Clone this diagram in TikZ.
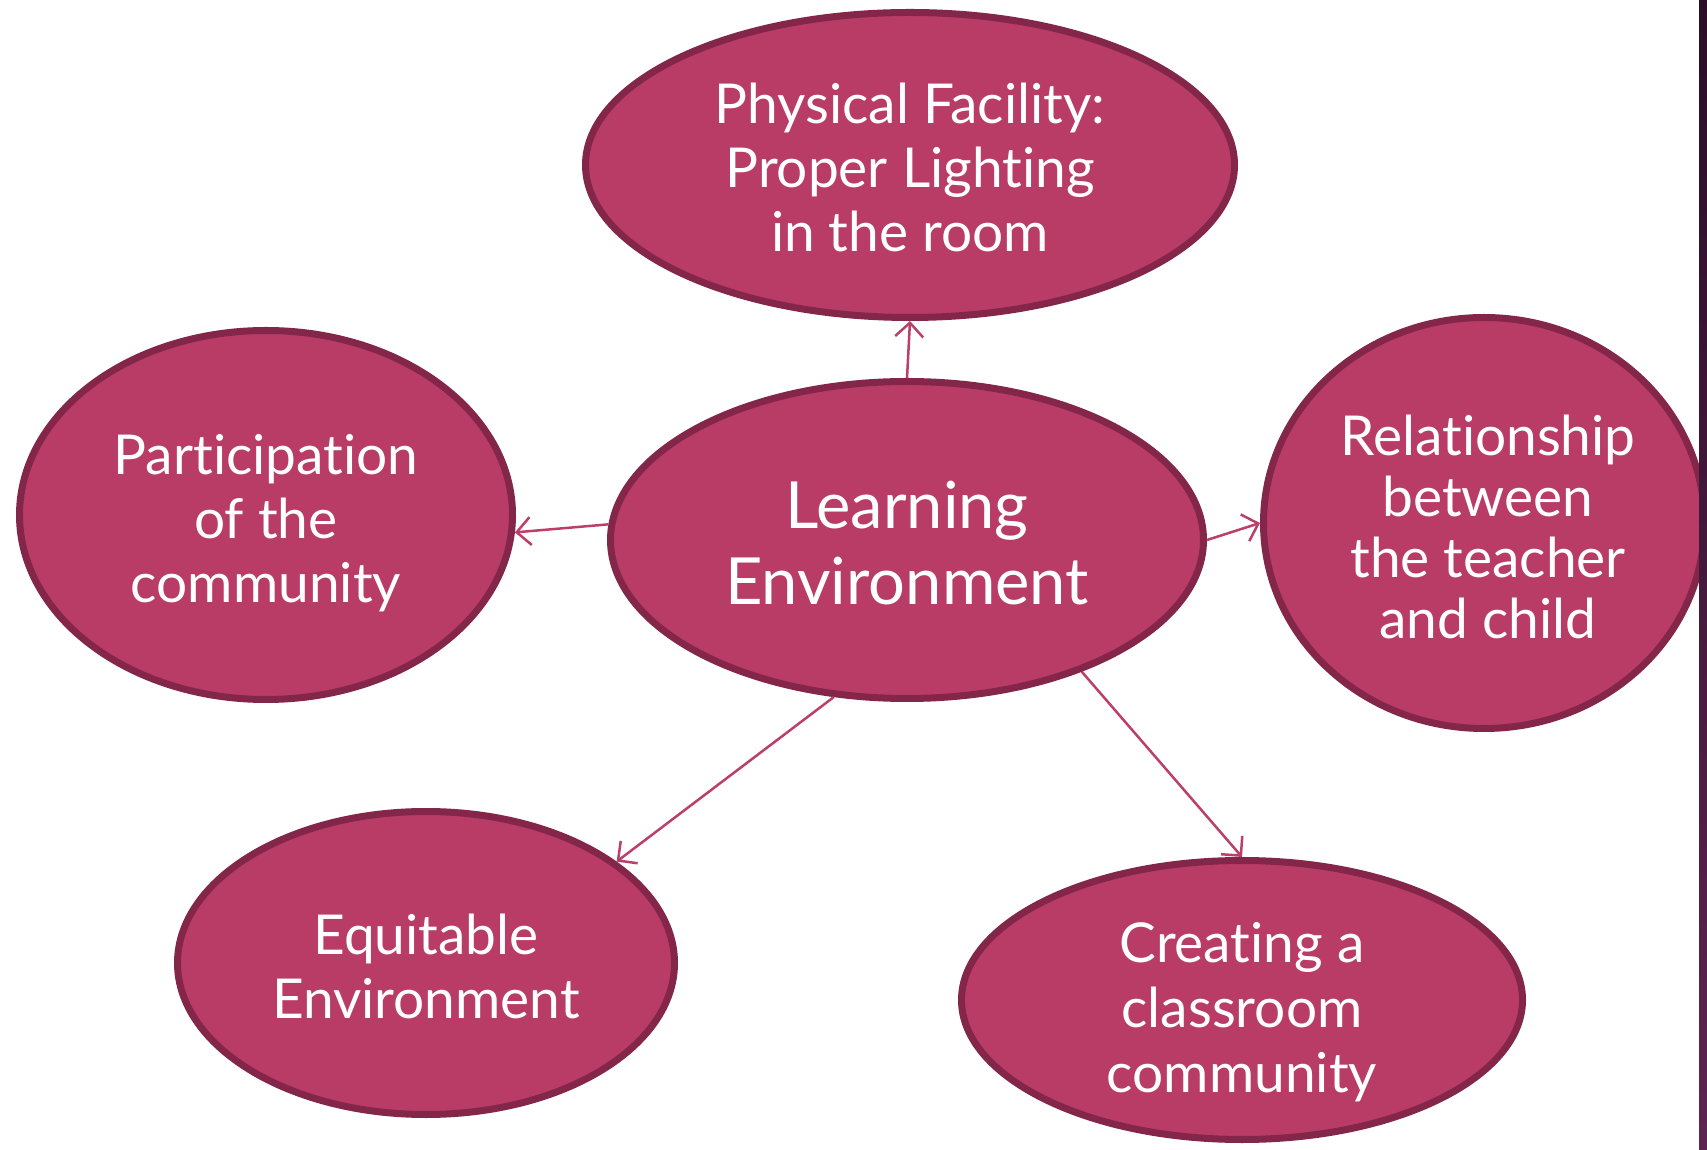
\documentclass[tikz,border=0pt]{standalone}
\usepackage{fontspec}
\setmainfont{Lato}[Ligatures=NoCommon]
\usetikzlibrary{shapes.geometric,arrows.meta}
\definecolor{ellfill}{HTML}{B93C66}
\definecolor{elldraw}{HTML}{84264A}
\definecolor{arrcol}{HTML}{BC3F69}
\definecolor{stripA}{HTML}{2B0E26}
\definecolor{stripB}{HTML}{5E2552}
\tikzset{
  bubble/.style={ellipse, fill=ellfill, draw=elldraw, line width=7pt, inner sep=0pt},
  txt/.style={text=white, align=center, inner sep=0pt, font=\fontsize{55}{64}\selectfont},
  link/.style={draw=arrcol, line width=2.5pt, -{Straight Barb[length=14pt,width=28pt,line width=2.5pt]}}
}
\begin{document}
\begin{tikzpicture}[x=1pt,y=1pt]
\useasboundingbox[fill=white] (0,0) rectangle (1707,1149);
\node[bubble, minimum width=649pt, minimum height=305pt] (t) at (910,984) {};
\node[bubble, minimum width=493pt, minimum height=369pt] (l) at (266,634) {};
\node[bubble, minimum width=593pt, minimum height=317pt] (c) at (907,609) {};
\node[bubble, minimum width=441pt, minimum height=411pt] (r) at (1484,626) {};
\node[bubble, minimum width=497pt, minimum height=303pt] (bl) at (426,186) {};
\node[bubble, minimum width=561pt, minimum height=279pt] (br) at (1242,149) {};
\node[txt] (tt) at (910,982) {Physical Facility:\\Proper Lighting\\in the room};
\node[txt] (lt) at (266,626) {Participation\\of the\\community};
\node[txt, font=\fontsize{65}{76}\selectfont] (ct) at (907,606) {Learning\\Environment};
\node[txt, font=\fontsize{55}{61}\selectfont] (rt) at (1488,622) {Relationship\\between\\the teacher\\and child};
\node[txt] (blt) at (426,183) {Equitable\\Environment};
\node[txt, font=\fontsize{55}{65}\selectfont] (brt) at (1242,137) {Creating a\\classroom\\community};
\draw[link] (c.90) -- (t.-90);
\draw[link] (c.177) -- (l.-4);
\draw[link] (c.0.5) -- (r.180);
\draw[link] (c.-115.4) -- (bl.28.8);
\draw[link] (c.-37.7) -- (br.90.4);
\shade[top color=stripA, bottom color=stripB] (1699,0) rectangle (1707,1149);
\end{tikzpicture}
\end{document}
